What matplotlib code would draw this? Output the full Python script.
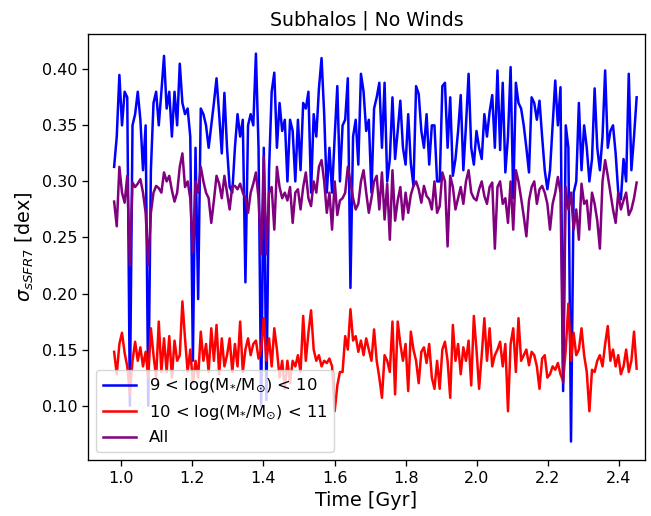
import numpy as np
import matplotlib
matplotlib.use("Agg")
import matplotlib.pyplot as plt

# Snapshot times [Gyr]
t_start, t_end, n_snap = 0.98, 2.45, 200
time = np.linspace(t_start, t_end, n_snap)

# Scatter of sSFR (7 Myr) for low-mass subhalos, 9 < log(M*/Msun) < 10
sigma_low = [
    0.313, 0.340, 0.395, 0.350, 0.380, 0.375, 0.100, 0.350, 0.360, 0.380,
    0.355, 0.310, 0.350, 0.100, 0.310, 0.370, 0.380, 0.350, 0.380, 0.412,
    0.365, 0.380, 0.340, 0.380, 0.350, 0.405, 0.370, 0.360, 0.365, 0.340,
    0.140, 0.330, 0.195, 0.365, 0.360, 0.350, 0.330, 0.350, 0.370, 0.392,
    0.360, 0.325, 0.379, 0.330, 0.295, 0.290, 0.330, 0.360, 0.340, 0.355,
    0.210, 0.350, 0.360, 0.350, 0.414, 0.330, 0.100, 0.330, 0.105, 0.310,
    0.380, 0.397, 0.330, 0.370, 0.345, 0.355, 0.300, 0.355, 0.345, 0.300,
    0.355, 0.310, 0.370, 0.365, 0.380, 0.290, 0.360, 0.340, 0.383, 0.410,
    0.360, 0.290, 0.330, 0.290, 0.340, 0.385, 0.300, 0.350, 0.355, 0.392,
    0.205, 0.340, 0.355, 0.315, 0.396, 0.380, 0.345, 0.355, 0.290, 0.365,
    0.375, 0.388, 0.330, 0.388, 0.300, 0.320, 0.375, 0.320, 0.345, 0.372,
    0.330, 0.315, 0.360, 0.316, 0.296, 0.385, 0.378, 0.345, 0.330, 0.360,
    0.315, 0.350, 0.350, 0.300, 0.300, 0.385, 0.388, 0.330, 0.375, 0.305,
    0.320, 0.345, 0.377, 0.310, 0.350, 0.396, 0.330, 0.315, 0.345, 0.330,
    0.320, 0.360, 0.340, 0.362, 0.377, 0.330, 0.399, 0.328, 0.388, 0.308,
    0.340, 0.402, 0.285, 0.388, 0.370, 0.365, 0.350, 0.330, 0.308, 0.375,
    0.370, 0.355, 0.372, 0.340, 0.310, 0.293, 0.310, 0.350, 0.390, 0.350,
    0.384, 0.113, 0.350, 0.330, 0.068, 0.290, 0.300, 0.370, 0.310, 0.350,
    0.330, 0.300, 0.320, 0.383, 0.330, 0.310, 0.340, 0.399, 0.330, 0.345,
    0.350, 0.325, 0.290, 0.284, 0.320, 0.300, 0.396, 0.310, 0.340, 0.375,
]

# High-mass subhalos, 10 < log(M*/Msun) < 11
sigma_high = [
    0.148, 0.128, 0.155, 0.165, 0.147, 0.135, 0.110, 0.140, 0.157, 0.140,
    0.152, 0.135, 0.148, 0.125, 0.169, 0.145, 0.125, 0.175, 0.130, 0.160,
    0.130, 0.162, 0.125, 0.158, 0.140, 0.145, 0.193, 0.160, 0.130, 0.150,
    0.120, 0.140, 0.125, 0.166, 0.140, 0.155, 0.130, 0.169, 0.140, 0.172,
    0.128, 0.160, 0.135, 0.145, 0.160, 0.130, 0.155, 0.135, 0.175, 0.130,
    0.150, 0.160, 0.145, 0.155, 0.158, 0.142, 0.150, 0.178, 0.140, 0.160,
    0.135, 0.169, 0.150, 0.125, 0.140, 0.115, 0.140, 0.120, 0.140, 0.135,
    0.145, 0.130, 0.180, 0.140, 0.165, 0.185, 0.150, 0.140, 0.145, 0.135,
    0.140, 0.138, 0.142, 0.135, 0.095, 0.118, 0.130, 0.130, 0.162, 0.150,
    0.186, 0.158, 0.162, 0.148, 0.158, 0.145, 0.160, 0.150, 0.140, 0.168,
    0.140, 0.125, 0.107, 0.145, 0.140, 0.130, 0.175, 0.110, 0.175, 0.155,
    0.140, 0.155, 0.113, 0.166, 0.150, 0.140, 0.120, 0.148, 0.152, 0.138,
    0.155, 0.125, 0.115, 0.140, 0.115, 0.150, 0.157, 0.140, 0.107, 0.172,
    0.140, 0.155, 0.128, 0.152, 0.140, 0.158, 0.118, 0.180, 0.150, 0.115,
    0.145, 0.178, 0.140, 0.169, 0.135, 0.145, 0.150, 0.157, 0.135, 0.155,
    0.095, 0.155, 0.169, 0.130, 0.178, 0.140, 0.145, 0.150, 0.136, 0.148,
    0.145, 0.135, 0.115, 0.142, 0.145, 0.125, 0.128, 0.135, 0.132, 0.138,
    0.128, 0.122, 0.150, 0.191, 0.140, 0.165, 0.145, 0.150, 0.169, 0.145,
    0.130, 0.095, 0.132, 0.130, 0.140, 0.145, 0.135, 0.155, 0.171, 0.140,
    0.150, 0.135, 0.145, 0.128, 0.135, 0.150, 0.130, 0.140, 0.166, 0.133,
]

# All subhalos
sigma_all = [
    0.282, 0.260, 0.313, 0.290, 0.281, 0.305, 0.225, 0.299, 0.295, 0.298,
    0.302, 0.290, 0.272, 0.225, 0.272, 0.290, 0.296, 0.294, 0.290, 0.308,
    0.300, 0.305, 0.292, 0.282, 0.290, 0.313, 0.325, 0.295, 0.300, 0.285,
    0.237, 0.300, 0.290, 0.313, 0.300, 0.290, 0.285, 0.263, 0.283, 0.305,
    0.298, 0.285, 0.305, 0.290, 0.275, 0.296, 0.296, 0.293, 0.298, 0.290,
    0.285, 0.272, 0.290, 0.298, 0.308, 0.285, 0.235, 0.322, 0.235, 0.290,
    0.295, 0.257, 0.313, 0.295, 0.285, 0.290, 0.283, 0.295, 0.263, 0.290,
    0.293, 0.275, 0.295, 0.308, 0.285, 0.278, 0.300, 0.290, 0.313, 0.319,
    0.300, 0.272, 0.290, 0.257, 0.300, 0.270, 0.283, 0.285, 0.290, 0.313,
    0.300, 0.285, 0.275, 0.280, 0.300, 0.310, 0.290, 0.272, 0.285, 0.300,
    0.305, 0.275, 0.308, 0.266, 0.298, 0.248, 0.310, 0.265, 0.283, 0.295,
    0.266, 0.290, 0.272, 0.288, 0.296, 0.300, 0.293, 0.281, 0.296, 0.287,
    0.284, 0.275, 0.300, 0.272, 0.278, 0.308, 0.300, 0.242, 0.305, 0.295,
    0.275, 0.285, 0.295, 0.280, 0.300, 0.310, 0.290, 0.285, 0.283, 0.293,
    0.300, 0.287, 0.280, 0.295, 0.299, 0.240, 0.295, 0.300, 0.280, 0.285,
    0.263, 0.300, 0.257, 0.310, 0.300, 0.285, 0.269, 0.251, 0.283, 0.295,
    0.300, 0.280, 0.293, 0.296, 0.290, 0.280, 0.257, 0.280, 0.290, 0.304,
    0.290, 0.120, 0.295, 0.275, 0.290, 0.257, 0.275, 0.248, 0.298, 0.280,
    0.283, 0.257, 0.290, 0.280, 0.265, 0.240, 0.300, 0.319, 0.305, 0.290,
    0.275, 0.263, 0.290, 0.275, 0.283, 0.290, 0.270, 0.275, 0.285, 0.299,
]

labels = [
    r"9 < log(M$_{*}$/M$_{\odot}$) < 10",
    r"10 < log(M$_{*}$/M$_{\odot}$) < 11",
    "All",
]
colors = ["blue", "red", "purple"]

fig = plt.figure(figsize=(6.51, 5.16), dpi=100)
ax = fig.add_axes([88 / 651, 1 - 460 / 516, (645 - 88) / 651, (460 - 34) / 516])

for series, lab, col in zip([sigma_low, sigma_high, sigma_all], labels, colors):
    ax.plot(time, series, color=col, lw=1.8, label=lab)

ax.set_xlim(0.9065, 2.4735)
ax.set_ylim(0.0515, 0.4315)
ax.set_xticks([1.0, 1.2, 1.4, 1.6, 1.8, 2.0, 2.2, 2.4])
ax.set_yticks([0.10, 0.15, 0.20, 0.25, 0.30, 0.35, 0.40])
ax.tick_params(labelsize=11.5, length=4.2, width=0.95)
for sp in ax.spines.values():
    sp.set_linewidth(0.95)

ax.set_xlabel("Time [Gyr]", fontsize=13.8)
ax.set_ylabel(r"$\sigma_{sSFR7}$ [dex]", fontsize=13.8)
ax.set_title("Subhalos | No Winds", fontsize=13.6)
ax.legend(loc="lower left", fontsize=11.8)

fig.savefig("out.png", dpi=100)
